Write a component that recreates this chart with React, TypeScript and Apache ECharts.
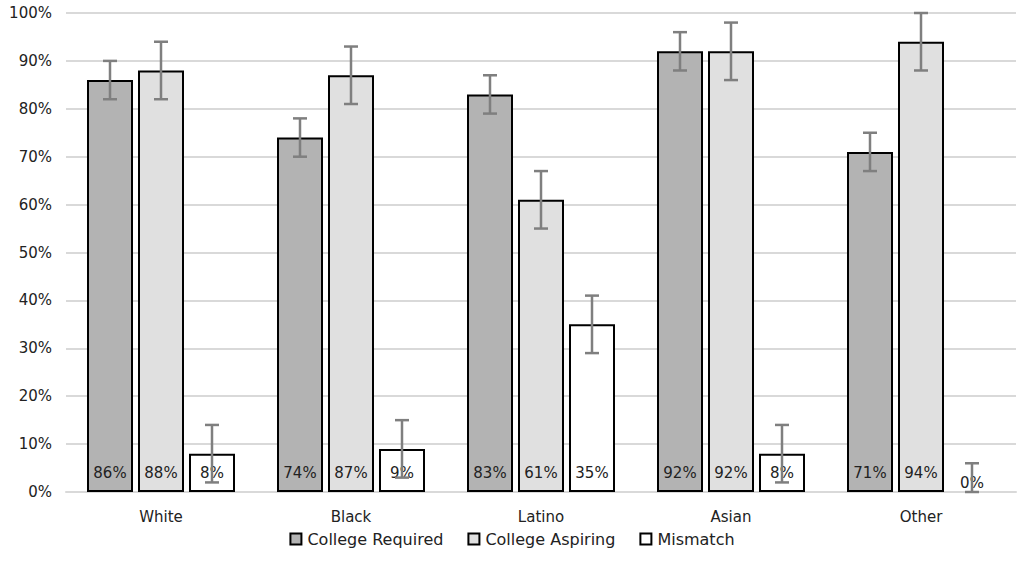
import React, { useEffect, useRef } from "react";
import * as echarts from "echarts";

const categories = ["White", "Black", "Latino", "Asian", "Other"];
const seriesNames = ["College Required", "College Aspiring", "Mismatch"];
const collegeRequired = [86, 74, 83, 92, 71];
const collegeAspiring = [88, 87, 61, 92, 94];
const mismatch = [8, 9, 35, 8, 0];
const errRequired = [4, 4, 4, 4, 4];
const errAspiring = [6, 6, 6, 6, 6];
const errMismatch = [6, 6, 6, 6, 6];
const colors = ["#b3b3b3", "#e0e0e0", "#ffffff"];

const BAR_W = 46;
const GAP = 5;

export default function App() {
  const ref = useRef<HTMLDivElement>(null);
  useEffect(() => {
    const chart = echarts.init(ref.current!, null, { renderer: "svg" });
    const values = [collegeRequired, collegeAspiring, mismatch];
    const errs = [errRequired, errAspiring, errMismatch];
    const font = "DejaVu Sans";

    const barSeries = values.map((vals, si) => ({
      type: "bar",
      name: seriesNames[si],
      barWidth: BAR_W,
      barGap: (GAP / BAR_W) * 100 + "%",
      itemStyle: { color: colors[si], borderColor: "#000", borderWidth: 2 },
      data: vals.map((v) =>
        v === 0
          ? { value: v, itemStyle: { borderWidth: 0 }, label: { distance: 2 } }
          : { value: v }
      ),
      label: {
        show: true,
        position: "insideBottom",
        distance: 12,
        formatter: (p: any) => p.value + "%",
        color: "#222",
        fontFamily: font,
        fontSize: 15,
      },
      z: 2,
    }));

    const errSeries = values.map((vals, si) => ({
      type: "custom",
      name: seriesNames[si] + " err",
      z: 5,
      silent: true,
      data: vals.map((v, i) => [i, v, Math.max(0, v - errs[si][i]), v + errs[si][i]]),
      renderItem: (params: any, api: any) => {
        const idx = api.value(0);
        const off = (si - 1) * (BAR_W + GAP);
        const hi = api.coord([idx, api.value(3)]);
        const lo = api.coord([idx, api.value(2)]);
        const x = hi[0] + off;
        const cap = 7;
        const style = { stroke: "#7f7f7f", lineWidth: 2.5 };
        return {
          type: "group",
          children: [
            { type: "line", shape: { x1: x, y1: hi[1], x2: x, y2: lo[1] }, style },
            { type: "line", shape: { x1: x - cap, y1: hi[1], x2: x + cap, y2: hi[1] }, style },
            { type: "line", shape: { x1: x - cap, y1: lo[1], x2: x + cap, y2: lo[1] }, style },
          ],
        };
      },
    }));

    chart.setOption({
      animation: false,
      backgroundColor: "#fff",
      grid: { left: 66, right: 8, top: 13, bottom: 86, containLabel: false },
      legend: {
        data: seriesNames,
        top: 526,
        left: "center",
        icon: "rect",
        itemWidth: 11,
        itemHeight: 11,
        itemGap: 24,
        textStyle: { fontFamily: font, fontSize: 16, color: "#222", padding: [0, 0, 0, 1] },
        itemStyle: { borderColor: "#000", borderWidth: 2 },
      },
      xAxis: {
        type: "category",
        data: categories,
        axisLine: { lineStyle: { color: "#d9d9d9", width: 2 } },
        axisTick: { show: false },
        axisLabel: { fontFamily: font, fontSize: 15, color: "#222", margin: 17 },
      },
      yAxis: {
        type: "value",
        min: 0,
        max: 100,
        interval: 10,
        axisLine: { show: false },
        axisTick: { show: false },
        axisLabel: {
          formatter: "{value}%",
          fontFamily: font,
          fontSize: 15,
          color: "#222",
          margin: 14,
        },
        splitLine: { lineStyle: { color: "#d9d9d9", width: 2 } },
      },
      series: [...barSeries, ...errSeries],
    });
    return () => chart.dispose();
  }, []);
  return <div ref={ref} style={{ width: 1024, height: 578, position: "absolute", left: 0, top: 0 }} />;
}
